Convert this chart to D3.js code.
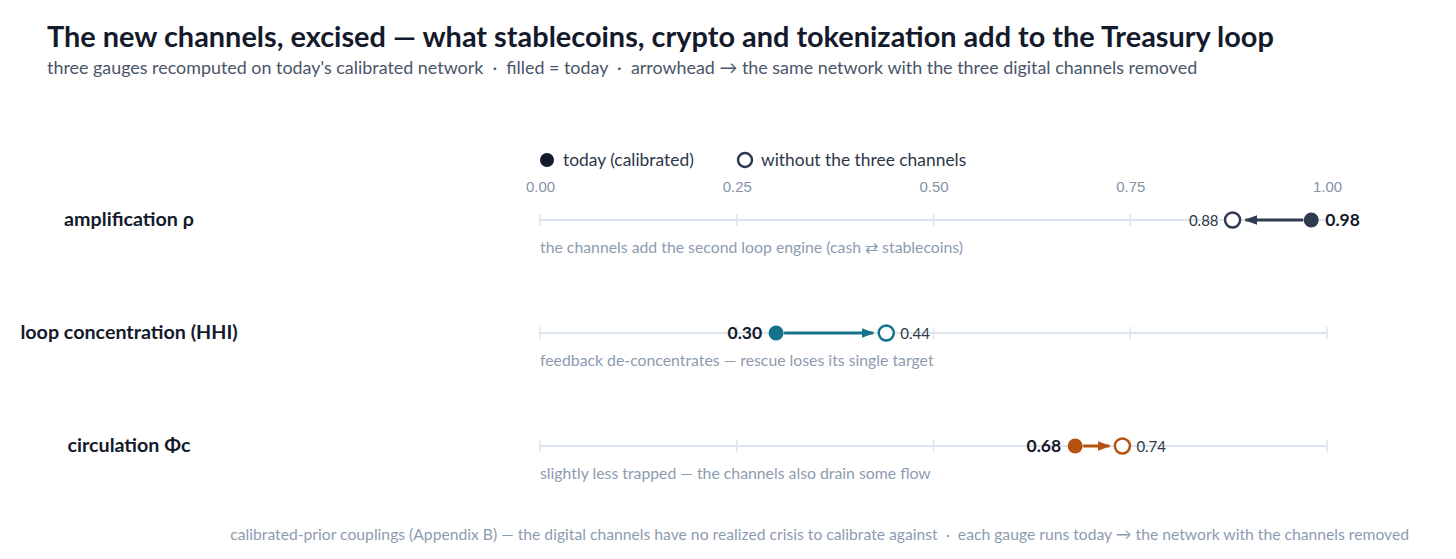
<!DOCTYPE html>
<html>
<head>
<meta charset="utf-8">
<script src="https://cdn.jsdelivr.net/npm/d3@7"></script>
<style>
  body { margin: 0; background: #fff; }
  svg { font-family: "Source Sans Pro", "Lato", "Noto Sans", sans-serif; }
  svg text { white-space: pre; }
</style>
</head>
<body>
<div id="chart"></div>
<script>
var gauges = ["amplification ρ", "loop concentration (HHI)", "circulation Φc"];
var today = [0.98, 0.30, 0.68];
var without = [0.88, 0.44, 0.74];
var notes = [
    "the channels add the second loop engine (cash ⇄ stablecoins)",
    "feedback de-concentrates — rescue loses its single target",
    "slightly less trapped — the channels also drain some flow"
];
var colors = ["#2e3b50", "#14728a", "#b4530f"];
var ticks = [0, 0.25, 0.5, 0.75, 1];

var W = 1456, H = 559;
var svg = d3.select("#chart").append("svg").attr("width", W).attr("height", H);

var x = d3.scaleLinear().domain([0, 1]).range([540, 1327]);
var y = d3.scalePoint().domain(gauges).range([220, 446]);

// title + subtitle
svg.append("text").attr("x", 47).attr("y", 47)
    .style("font-size", "28.9px").style("font-weight", "700").attr("fill", "#141a2b")
    .text("The new channels, excised — what stablecoins, crypto and tokenization add to the Treasury loop");
svg.append("text").attr("x", 47).attr("y", 74)
    .style("font-size", "17.9px").attr("fill", "#4a5568")
    .text("three gauges recomputed on today's calibrated network  ·  filled = today  ·  arrowhead → the same network with the three digital channels removed");

// legend
var leg = svg.append("g");
leg.append("circle").attr("cx", 547).attr("cy", 160).attr("r", 7).attr("fill", "#141a2b");
leg.append("text").attr("x", 563).attr("y", 166).style("font-size", "17.4px").attr("fill", "#2d3748").text("today (calibrated)");
leg.append("circle").attr("cx", 745).attr("cy", 160).attr("r", 7).attr("fill", "#fff").attr("stroke", "#2e3b50").attr("stroke-width", 2.5);
leg.append("text").attr("x", 761).attr("y", 166).style("font-size", "17.4px").attr("fill", "#2d3748").text("without the three channels");

// top axis labels
svg.append("g")
    .attr("transform", "translate(0,187)")
    .call(d3.axisTop(x).tickValues(ticks).tickFormat(d3.format(".2f")).tickSize(0).tickPadding(0))
    .call(function(g) { g.select(".domain").remove(); })
    .selectAll("text")
    .attr("dy", "0.35em")
    .style("font-size", "15px").style("font-family", "inherit").attr("fill", "#8593a8");

svg.append("defs").selectAll("marker")
    .data(colors).enter().append("marker")
    .attr("id", function(d, i) { return "arr" + i; })
    .attr("viewBox", "0 0 10 10").attr("refX", 9).attr("refY", 5)
    .attr("markerWidth", 4.3).attr("markerHeight", 4.3).attr("markerUnits", "strokeWidth")
    .attr("orient", "auto")
    .append("path").attr("d", "M0,1.2L10,5L0,8.8Z").attr("fill", function(d) { return d; });

var rows = svg.selectAll(".row").data(gauges).enter().append("g")
    .attr("class", "row")
    .attr("transform", function(d) { return "translate(0," + y(d) + ")"; });

rows.append("line").attr("x1", x(0)).attr("x2", x(1)).attr("stroke", "#dce4ee").attr("stroke-width", 2);
rows.selectAll(".tk").data(ticks).enter().append("line")
    .attr("x1", function(t) { return x(t); }).attr("x2", function(t) { return x(t); })
    .attr("y1", -6).attr("y2", 6).attr("stroke", "#dce4ee").attr("stroke-width", 1.5);

rows.append("text").attr("x", 129).attr("y", 6).attr("text-anchor", "middle")
    .style("font-size", "19.7px").style("font-weight", "700").attr("fill", "#141a2b")
    .text(function(d) { return d; });

rows.append("text").attr("x", x(0)).attr("y", 33)
    .style("font-size", "15.8px").attr("fill", "#8d9bb0")
    .text(function(d, i) { return notes[i]; });

rows.each(function(d, i) {
    var g = d3.select(this);
    var a = x(today[i]), b = x(without[i]);
    var dir = b > a ? 1 : -1;
    g.append("line")
        .attr("x1", a + dir * 8).attr("x2", b - dir * 13)
        .attr("stroke", colors[i]).attr("stroke-width", 3)
        .attr("marker-end", "url(#arr" + i + ")");
    g.append("circle").attr("cx", a).attr("r", 7.5).attr("fill", colors[i]);
    g.append("circle").attr("cx", b).attr("r", 7.5).attr("fill", "#fff")
        .attr("stroke", colors[i]).attr("stroke-width", 2.5);
    g.append("text").attr("x", a - dir * 14).attr("y", 6)
        .attr("text-anchor", dir > 0 ? "end" : "start")
        .style("font-size", "17.5px").style("font-weight", "700").attr("fill", "#141a2b")
        .text(d3.format(".2f")(today[i]));
    g.append("text").attr("x", b + dir * 14).attr("y", 6)
        .attr("text-anchor", dir > 0 ? "start" : "end")
        .style("font-size", "15px").attr("fill", "#2d3748")
        .text(d3.format(".2f")(without[i]));
});

svg.append("text").attr("x", 1409).attr("y", 540).attr("text-anchor", "end")
    .style("font-size", "15.7px").attr("fill", "#8d9bb0")
    .text("calibrated-prior couplings (Appendix B) — the digital channels have no realized crisis to calibrate against  ·  each gauge runs today → the network with the channels removed");
</script>
</body>
</html>
